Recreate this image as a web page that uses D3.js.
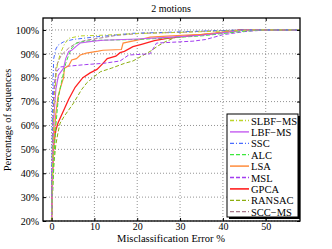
<!DOCTYPE html>
<html><head><meta charset="utf-8">
<script src="https://cdn.jsdelivr.net/npm/d3@7/dist/d3.min.js"></script>
<style>
html,body{margin:0;padding:0;background:#fff;}
svg{display:block;font-family:"Liberation Serif","DejaVu Serif",serif;}
</style></head>
<body><svg id="c" width="332" height="249"></svg>
<script>
const xTicks = [0, 10, 20, 30, 40, 50];
const yTicks = [20, 30, 40, 50, 60, 70, 80, 90, 100];
const seriesNames = ["SLBF\u2212MS", "LBF\u2212MS", "SSC", "ALC", "LSA", "MSL", "GPCA", "RANSAC", "SCC\u2212MS"];

const slbfms = [[0,20],[0.3,50],[0.6,70],[1.2,84],[2,90],[3,94],[4,96.5],[6.7,97.5],[12,97.8],[20,98.5],[30,99],[40,99.5],[47,100],[58,100]];
const lbfms = [[0,20],[0.3,50],[0.6,65],[1,75],[1.6,81],[2.8,84],[3.3,88],[4,91],[4.7,91.5],[5.8,93.2],[6.7,94.5],[9.8,95.3],[12,95.7],[20,96.2],[28,97],[35,97.8],[40,98.8],[45,100],[58,100]];
const ssc = [[0,20],[0.2,70],[0.5,88],[1,92],[1.5,93.6],[2.8,95],[5,96],[9.8,97],[19,98.6],[27,99],[35,99.5],[45,100],[58,100]];
const alc = [[0,20],[0.5,45],[1,60],[1.6,72],[2.3,78],[2.8,82],[3.3,86],[4,89.5],[4.7,92.4],[5.8,94.5],[8.1,95.3],[11.4,95.7],[20,96],[27,96.6],[35,97.5],[40,98.5],[45,99.5],[50,100],[58,100]];
const lsa = [[0,20],[0.3,40],[0.6,55],[1,65],[1.5,72],[2.1,76],[2.8,80],[3,84],[4,85],[4.7,87.4],[5.8,88],[6.7,89.5],[8.1,90.3],[10.9,91.1],[12,91.5],[16.3,91.8],[16.7,94.5],[18,95],[20,95.7],[23,97],[27,97.4],[35,98.2],[40,99],[45,100],[58,100]];
const msl = [[0,20],[0.1,40],[0.3,60],[0.5,75],[1,82],[2,84.5],[5,85],[8,85.5],[12,86],[16,87],[18,89.5],[23,90],[24.5,94.5],[33,95.3],[36,96],[40,98],[45,99.3],[50,100],[58,100]];
const gpca = [[0,20],[0.2,40],[0.5,52],[1,58],[1.5,61],[2.5,65],[4,71],[5.5,76],[7.3,80],[9,82],[10.6,83.5],[12,86],[13,88],[15,89],[16,90.5],[17,91],[19,93],[21,94],[24,95.5],[27,96.5],[32,97.5],[38,98.5],[44,100],[58,100]];
const ransac = [[0,20],[0.3,35],[0.6,45],[1,52],[1.5,57],[2,61],[3,64],[5,69],[7,75],[8.3,78],[10,80.5],[11.4,82.5],[14,84],[17,86],[19,87],[21,89],[23,91],[25,93.5],[26.5,95],[29,97],[35,98],[40,99],[45,100],[58,100]];
const sccms = [[0,20],[0.2,50],[0.5,70],[0.9,80],[1,84],[1.6,87],[2.3,89.5],[4,92.4],[5.8,94.5],[8,95.7],[11.4,96.6],[15,97.7],[21,98.6],[30,99],[36,99.5],[45,100],[58,100]];

const seriesData = [slbfms, lbfms, ssc, alc, lsa, msl, gpca, ransac, sccms];
const styles = [
  {c:"#bcd42a", d:"4,2,1,2", w:1},
  {c:"#c45cf0", d:null, w:1.1},
  {c:"#4a6cff", d:"4,2,1,2", w:1},
  {c:"#3ce83c", d:"4,2", w:1},
  {c:"#ff8c3c", d:null, w:1.2},
  {c:"#a23cf0", d:"4,2", w:1},
  {c:"#ff2020", d:null, w:1.3},
  {c:"#8cae10", d:"4,2", w:1},
  {c:"#a87a8c", d:"4,2", w:1}
];
const drawOrder = [7, 6, 5, 4, 8, 3, 1, 2, 0];

const L = 43, R = 300, T = 18, B = 221;
const svg = d3.select("#c");
const x = d3.scaleLinear().domain([-2, 58]).range([L, R]);
const y = d3.scaleLinear().domain([20, 105]).range([B, T]);

const g = svg.append("g");
g.selectAll(".vg").data(xTicks).join("line")
  .attr("x1", d => x(d)).attr("x2", d => x(d)).attr("y1", T).attr("y2", B)
  .attr("stroke", "#777").attr("stroke-width", 0.8).attr("stroke-dasharray", "1,2");
g.selectAll(".hg").data(yTicks).join("line")
  .attr("y1", d => y(d)).attr("y2", d => y(d)).attr("x1", L).attr("x2", R)
  .attr("stroke", "#777").attr("stroke-width", 0.8).attr("stroke-dasharray", "1,2");

svg.append("clipPath").attr("id", "clip").append("rect")
  .attr("x", L).attr("y", T).attr("width", R - L).attr("height", B - T);

const line = d3.line().x(d => x(d[0])).y(d => y(d[1]));
const lg = svg.append("g").attr("clip-path", "url(#clip)");
drawOrder.forEach(i => {
  lg.append("path").datum(seriesData[i]).attr("d", line)
    .attr("fill", "none").attr("stroke", styles[i].c)
    .attr("stroke-width", styles[i].w)
    .attr("stroke-dasharray", styles[i].d);
});

const xb = d3.axisBottom(x).tickValues(xTicks).tickSize(-3).tickPadding(2);
const xt = d3.axisTop(x).tickValues(xTicks).tickSize(-3).tickFormat("");
const yl = d3.axisLeft(y).tickValues(yTicks).tickSize(-3).tickPadding(4).tickFormat(d => d + "%");
const yr = d3.axisRight(y).tickValues(yTicks).tickSize(-3).tickFormat("");
[[xb, `translate(0,${B})`], [xt, `translate(0,${T})`], [yl, `translate(${L},0)`], [yr, `translate(${R},0)`]].forEach(([ax, tr]) => {
  const a = svg.append("g").attr("transform", tr).call(ax);
  a.select(".domain").remove();
  a.selectAll("line").attr("stroke", "#000");
  a.selectAll("text").attr("font-family", "Liberation Serif").attr("font-size", 10).attr("fill", "#000");
});
svg.append("rect").attr("x", L).attr("y", T).attr("width", R - L).attr("height", B - T)
  .attr("fill", "none").attr("stroke", "#000").attr("stroke-width", 1.3);

svg.append("text").attr("x", 171).attr("y", 12).attr("text-anchor", "middle")
  .attr("font-size", 10).text("2 motions");
svg.append("text").attr("x", 171).attr("y", 242).attr("text-anchor", "middle")
  .attr("font-size", 10.5).text("Misclassification Error %");
svg.append("text").attr("transform", "translate(11,120) rotate(-90)").attr("text-anchor", "middle")
  .attr("font-size", 10.5).text("Percentage of sequences");

const lx = 227, ly = 114, lw = 71, lh = 103;
svg.append("rect").attr("x", lx + 2).attr("y", ly + 2).attr("width", lw).attr("height", lh).attr("fill", "#000");
svg.append("rect").attr("x", lx).attr("y", ly).attr("width", lw).attr("height", lh)
  .attr("fill", "#fff").attr("stroke", "#000").attr("stroke-width", 1);
seriesNames.forEach((n, i) => {
  const yy = ly + 6.5 + i * 11.4;
  svg.append("line").attr("x1", lx + 3).attr("x2", lx + 22).attr("y1", yy).attr("y2", yy)
    .attr("stroke", styles[i].c).attr("stroke-width", styles[i].w + 0.3).attr("stroke-dasharray", styles[i].d);
  svg.append("text").attr("x", lx + 24).attr("y", yy + 4).attr("font-size", 10.5).text(n);
});
</script></body></html>
